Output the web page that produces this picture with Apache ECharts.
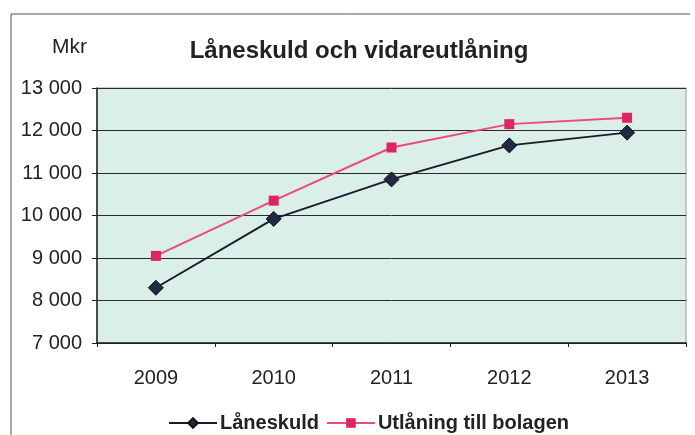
<!DOCTYPE html>
<html>
<head>
<meta charset="utf-8">
<script src="https://cdn.jsdelivr.net/npm/echarts@6/dist/echarts.min.js"></script>
<style>
  html, body { margin: 0; padding: 0; background: #fff; }
  #chart { width: 695px; height: 435px; }
</style>
</head>
<body>
<div id="chart"></div>
<script>
var years = ['2009', '2010', '2011', '2012', '2013'];
var laneskuld = [8300, 9920, 10850, 11650, 11950];
var utlaning = [9050, 10350, 11600, 12150, 12300];

var chart = echarts.init(document.getElementById('chart'));

function fmt(v) {
    var s = String(v);
    if (s.length > 3) s = s.slice(0, s.length - 3) + ' ' + s.slice(-3);
    return s;
}

var option = {
    backgroundColor: '#ffffff',
    textStyle: { fontFamily: 'Liberation Sans, Arial, sans-serif' },
    title: {
        text: 'Låneskuld och vidareutlåning',
        left: 354,
        textAlign: 'center',
        top: 34,
        textStyle: { fontSize: 24, fontWeight: 'bold', color: '#222' }
    },
    graphic: [
        { type: 'line', shape: { x1: 11, y1: 14, x2: 690, y2: 14 }, style: { stroke: '#555', lineWidth: 1 } },
        { type: 'line', shape: { x1: 11, y1: 14, x2: 11, y2: 435 }, style: { stroke: '#555', lineWidth: 1 } },
        { type: 'text', left: 52, top: 37, style: { text: 'Mkr', fontSize: 21, fill: '#222', fontFamily: 'Liberation Sans, Arial, sans-serif' } }
    ],
    grid: {
        left: 97,
        right: 9,
        top: 88,
        bottom: 92,
        show: true,
        backgroundColor: '#d9efe8',
        borderColor: '#999',
        borderWidth: 1
    },
    legend: {
        top: 408,
        left: 163,
        itemWidth: 48,
        itemHeight: 12,
        itemGap: 7,
        textStyle: { fontSize: 20, fontWeight: 'bold', color: '#222', padding: [0, 0, 0, -2] },
        data: ['Låneskuld', 'Utlåning till bolagen']
    },
    xAxis: {
        type: 'category',
        data: years,
        boundaryGap: true,
        axisLine: { lineStyle: { color: '#222', width: 1.5 } },
        axisTick: { show: true, length: 4, lineStyle: { color: '#222' } },
        axisLabel: { fontSize: 20, color: '#222', margin: 25 }
    },
    yAxis: {
        type: 'value',
        min: 7000,
        max: 13000,
        interval: 1000,
        axisLine: { show: true, lineStyle: { color: '#222', width: 1.5 } },
        axisTick: { show: true, length: 5, lineStyle: { color: '#222' } },
        axisLabel: { fontSize: 20, color: '#222', margin: 15, formatter: fmt },
        splitLine: { lineStyle: { color: '#2a2a2a', width: 1 } }
    },
    series: [{
        name: 'Låneskuld',
        type: 'line',
        data: laneskuld,
        symbol: 'diamond',
        symbolSize: 15,
        itemStyle: { color: '#1f2a44', borderColor: '#111', borderWidth: 1 },
        lineStyle: { color: '#1a1a2a', width: 2 }
    }, {
        name: 'Utlåning till bolagen',
        type: 'line',
        data: utlaning,
        symbol: 'rect',
        symbolSize: 10,
        itemStyle: { color: '#e0245e' },
        lineStyle: { color: '#e94a78', width: 2 }
    }]
};

chart.setOption(option);
</script>
</body>
</html>
